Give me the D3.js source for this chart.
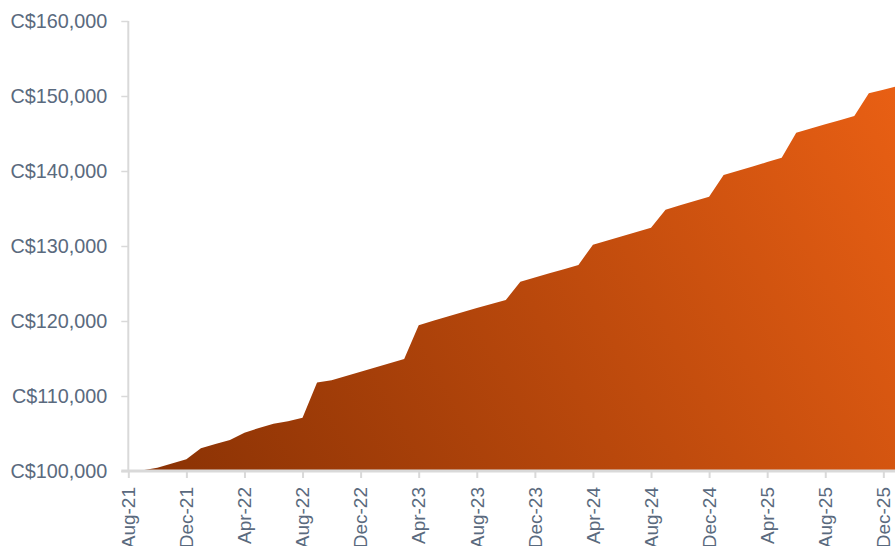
<!DOCTYPE html>
<html>
<head>
<meta charset="utf-8">
<script src="https://cdn.jsdelivr.net/npm/d3@7"></script>
<style>
  html, body { margin: 0; padding: 0; background: #fff; }
  svg { display: block; }
  text { font-family: "Liberation Sans", Arial, sans-serif; }
</style>
</head>
<body>
<svg id="chart" width="895" height="546"></svg>
<script>
// ---- data ----
const months = ["Aug-21","Sep-21","Oct-21","Nov-21","Dec-21","Jan-22","Feb-22","Mar-22","Apr-22","May-22","Jun-22","Jul-22",
  "Aug-22","Sep-22","Oct-22","Nov-22","Dec-22","Jan-23","Feb-23","Mar-23","Apr-23","May-23","Jun-23","Jul-23",
  "Aug-23","Sep-23","Oct-23","Nov-23","Dec-23","Jan-24","Feb-24","Mar-24","Apr-24","May-24","Jun-24","Jul-24",
  "Aug-24","Sep-24","Oct-24","Nov-24","Dec-24","Jan-25","Feb-25","Mar-25","Apr-25","May-25","Jun-25","Jul-25",
  "Aug-25","Sep-25","Oct-25","Nov-25","Dec-25","Jan-26"];
const values = [100000,100100,100440,101000,101560,103030,103600,104150,105100,105750,106300,106650,
  107100,111800,112100,112670,113230,113800,114360,114930,119450,120020,120590,121160,
  121730,122270,122800,125240,125800,126360,126910,127470,130180,130740,131300,131870,
  132440,134850,135420,136000,136570,139470,140040,140610,141190,141770,145110,145660,
  146220,146780,147330,150360,150830,151330];
const xTickLabels = ["Aug-21","Dec-21","Apr-22","Aug-22","Dec-22","Apr-23","Aug-23","Dec-23","Apr-24","Aug-24","Dec-24","Apr-25","Aug-25","Dec-25"];
const yTicks = [100000,110000,120000,130000,140000,150000,160000];

// ---- layout ----
const svg = d3.select("#chart");
const x0 = 128.3, step = 14.52;
const x = d3.scaleLinear().domain([0, months.length - 1]).range([x0, x0 + step * (months.length - 1)]);
const y = d3.scaleLinear().domain([100000, 160000]).range([471, 21]);

const defs = svg.append("defs");
const grad = defs.append("linearGradient").attr("id", "g")
  .attr("gradientUnits", "userSpaceOnUse")
  .attr("x1", 128).attr("y1", 471).attr("x2", 895).attr("y2", 60);
grad.append("stop").attr("offset", "0%").attr("stop-color", "#883104");
grad.append("stop").attr("offset", "50%").attr("stop-color", "#b9480c");
grad.append("stop").attr("offset", "100%").attr("stop-color", "#ea6014");

const area = d3.area()
  .x((d, i) => x(i))
  .y0(y(100000))
  .y1(d => y(d));

svg.append("path").datum(values).attr("d", area).attr("fill", "url(#g)");

const labelColor = "#5a6a7e";
const axisColor = "#d9d9d9";

// y axis
const yAxis = svg.append("g").attr("transform", `translate(${x0},0)`)
  .call(d3.axisLeft(y).tickValues(yTicks).tickSize(7).tickPadding(14)
    .tickFormat(d => "C$" + d3.format(",")(d)));
yAxis.select(".domain").attr("stroke", axisColor).attr("stroke-width", 2).attr("d", `M0,${y(160000)}V${y(100000)}`);
yAxis.selectAll(".tick line").attr("stroke", axisColor).attr("stroke-width", 1.5);
yAxis.selectAll("text").attr("fill", labelColor).style("font-size", "19.8px");

// x axis
const tickIdx = xTickLabels.map(l => months.indexOf(l));
const xAxis = svg.append("g").attr("transform", `translate(0,${y(100000)})`)
  .call(d3.axisBottom(x).tickValues(tickIdx).tickSize(7).tickFormat((d) => months[d]));
xAxis.select(".domain").attr("stroke", axisColor).attr("stroke-width", 3).attr("d", `M${x0 - 7},0H895`);
xAxis.selectAll(".tick line").attr("stroke", axisColor).attr("stroke-width", 2);
xAxis.selectAll("text")
  .attr("fill", labelColor).style("font-size", "19px")
  .attr("text-anchor", "end")
  .attr("transform", "rotate(-90)")
  .attr("x", -16).attr("y", 0).attr("dy", "0.33em");
</script>
</body>
</html>
